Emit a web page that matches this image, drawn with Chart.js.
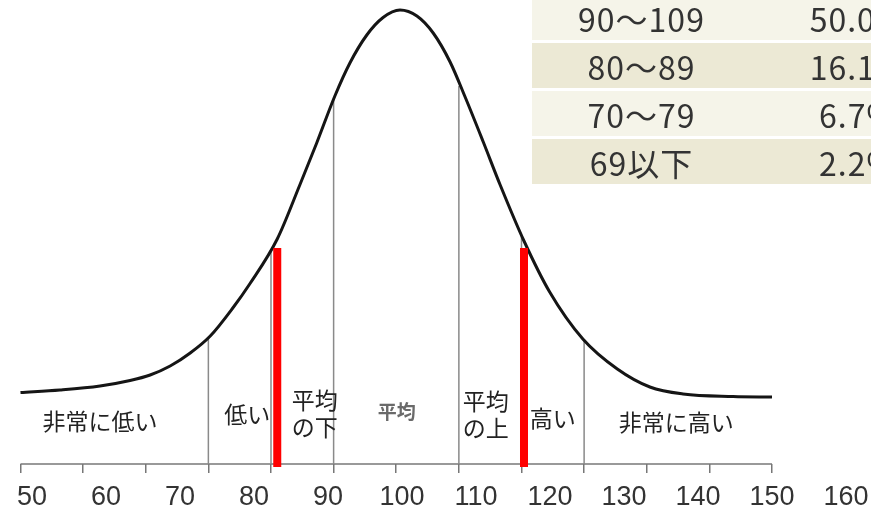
<!DOCTYPE html>
<html lang="ja">
<head>
<meta charset="utf-8">
<script src="https://cdn.jsdelivr.net/npm/chart.js@4/dist/chart.umd.min.js"></script>
<style>
  html, body { margin: 0; padding: 0; background: #fff; overflow: hidden; }
  #wrap { position: relative; width: 871px; height: 510px; }
  #iq { position: absolute; left: 0; top: 0; }
  #table {
    position: absolute; left: 532px; top: -5px;
    font-family: "Noto Sans CJK JP", "Noto Sans", sans-serif;
    font-size: 32px; color: #333; letter-spacing: 1px;
  }
  .row { display: flex; height: 45px; margin-bottom: 3px; }
  .row div { display: flex; align-items: center; justify-content: center; }
  .row .c1 { width: 219px; margin-right: 3px; }
  .row .c2 { width: 208px; }
  .light { background: #f5f4e9; }
  .dark { background: #ece9d5; }
</style>
</head>
<body>
<div id="wrap">
  <canvas id="iq" width="871" height="510"></canvas>
  <div id="table"></div>
</div>
<script>
  // axis: 13 plain tick marks, labels on their own scale
  const tickMarks = [0, 1, 2, 3, 4, 5, 6, 7, 8, 9, 10, 11, 12];
  const axisLabels = [50, 60, 70, 80, 90, 100, 110, 120, 130, 140, 150, 160];

  // bell curve (x in tick units, y = height above the axis)
  const curveX = [0, 0.63, 1.27, 1.75, 2.07, 2.39, 2.71, 3.03, 3.39, 3.66, 4.10, 4.46, 4.73, 5.02, 5.26, 5.53, 5.79, 6.06,
    6.33, 6.59, 6.86, 7.10, 7.39, 7.66, 8.04, 8.45, 8.98, 9.53, 10.05, 10.58, 11.38, 12];
  const curveY = [71.5, 74, 78, 83.5, 89, 98, 111, 128, 156, 180, 225, 279, 321, 368, 401, 429, 446.5, 454,
    448, 431, 402, 367, 322, 279, 223, 172, 125, 95, 77, 70, 67.5, 67];

  // thin grey dividers and the two red markers
  const dividerX = [3, 4, 5, 7, 8, 9];
  const dividerTop = [126, 215, 365, 378, 229, 124];
  const redX = [4.1, 8.04];
  const redTop = [216, 216];

  // band names under the curve
  const bandNames = ['非常に低い', '低い', '平均\nの下', '平均', '平均\nの上', '高い', '非常に高い'];

  // table in the corner
  const tableRanges = ['90〜109', '80〜89', '70〜79', '69以下'];
  const tablePercents = ['50.0%', '16.1%', '6.7%', '2.2%'];

  const tableEl = document.getElementById('table');
  tableRanges.forEach((r, i) => {
    const row = document.createElement('div');
    row.className = 'row ' + (i % 2 === 0 ? 'light' : 'dark');
    const a = document.createElement('div');
    a.className = 'c1';
    a.textContent = r;
    const b = document.createElement('div');
    b.className = 'c2';
    b.textContent = tablePercents[i];
    row.appendChild(a);
    row.appendChild(b);
    tableEl.appendChild(row);
  });

  function segments(xs, tops, bottom) {
    const pts = [];
    xs.forEach((x, i) => {
      pts.push({ x: x, y: bottom });
      pts.push({ x: x, y: tops[i] });
      pts.push({ x: x, y: null });
    });
    return pts;
  }

  // where each band name sits: [x in tick units, height, size, colour]
  const bandPlace = [
    [1.27, 43, 23, '#222'],
    [3.62, 50, 23, '#222'],
    [4.70, 50, 23, '#222'],
    [6.01, 52, 19, '#6a6a6a'],
    [7.43, 49, 23, '#222'],
    [8.50, 46, 23, '#222'],
    [10.47, 42, 23, '#222']
  ];

  const bandLabels = {
    id: 'bandLabels',
    afterDatasetsDraw(chart) {
      const ctx = chart.ctx;
      const xs = chart.scales.x, ys = chart.scales.y;
      ctx.save();
      ctx.textAlign = 'center';
      ctx.textBaseline = 'middle';
      bandNames.forEach((name, i) => {
        const p = bandPlace[i];
        ctx.font = (p[3] === '#222' ? '' : 'bold ') + p[2] + 'px "Noto Sans CJK JP", sans-serif';
        ctx.fillStyle = p[3];
        const lines = name.split('\n');
        const cx = xs.getPixelForValue(p[0]);
        const cy = ys.getPixelForValue(p[1]);
        const lh = 27;
        lines.forEach((ln, j) => {
          ctx.fillText(ln, cx, cy + (j - (lines.length - 1) / 2) * lh);
        });
      });
      ctx.restore();
    }
  };

  const noSidePad = (s) => { s.paddingLeft = 0; s.paddingRight = 0; };

  new Chart(document.getElementById('iq').getContext('2d'), {
    type: 'line',
    data: {
      datasets: [
        {
          data: segments(redX, redTop, -3),
          borderColor: '#ff0000',
          borderWidth: 8,
          borderCapStyle: 'butt',
          pointRadius: 0,
          spanGaps: false,
          clip: false,
          order: 0
        },
        {
          data: curveX.map((x, i) => ({ x: x, y: curveY[i] })),
          borderColor: '#151515',
          borderWidth: 3,
          pointRadius: 0,
          cubicInterpolationMode: 'monotone',
          order: 1
        },
        {
          data: segments(dividerX, dividerTop, 0),
          borderColor: '#8a8a8a',
          borderWidth: 1.5,
          pointRadius: 0,
          spanGaps: false,
          order: 2
        },
        {
          data: [{ x: tickMarks[0], y: 0 }, { x: tickMarks[tickMarks.length - 1], y: 0 }],
          borderColor: '#777',
          borderWidth: 1.5,
          pointRadius: 0,
          clip: false,
          order: 3
        }
      ]
    },
    options: {
      responsive: false,
      animation: false,
      layout: { padding: 0 },
      plugins: { legend: { display: false }, tooltip: { enabled: false } },
      scales: {
        x: {
          type: 'linear',
          position: 'bottom',
          weight: 0,
          min: -0.3273,
          max: 13.581,
          afterBuildTicks: (s) => { s.ticks = tickMarks.map(v => ({ value: v })); },
          afterFit: (s) => { s.height = 9; noSidePad(s); },
          grid: { display: true, drawOnChartArea: false, drawTicks: true, tickLength: 9, color: '#777', lineWidth: 1.5 },
          border: { display: false },
          ticks: { display: false }
        },
        x2: {
          type: 'linear',
          position: 'bottom',
          weight: 1,
          min: 45.68,
          max: 163.38,
          afterBuildTicks: (s) => { s.ticks = axisLabels.map(v => ({ value: v })); },
          afterFit: (s) => { s.height = 37; noSidePad(s); },
          grid: { display: false, drawTicks: false },
          border: { display: false },
          ticks: {
            padding: 8,
            maxRotation: 0,
            autoSkip: false,
            color: '#333',
            font: { family: '"Liberation Sans", sans-serif', size: 27 }
          }
        },
        y: { type: 'linear', display: false, min: 0, max: 464 }
      }
    },
    plugins: [bandLabels]
  });
</script>
</body>
</html>
